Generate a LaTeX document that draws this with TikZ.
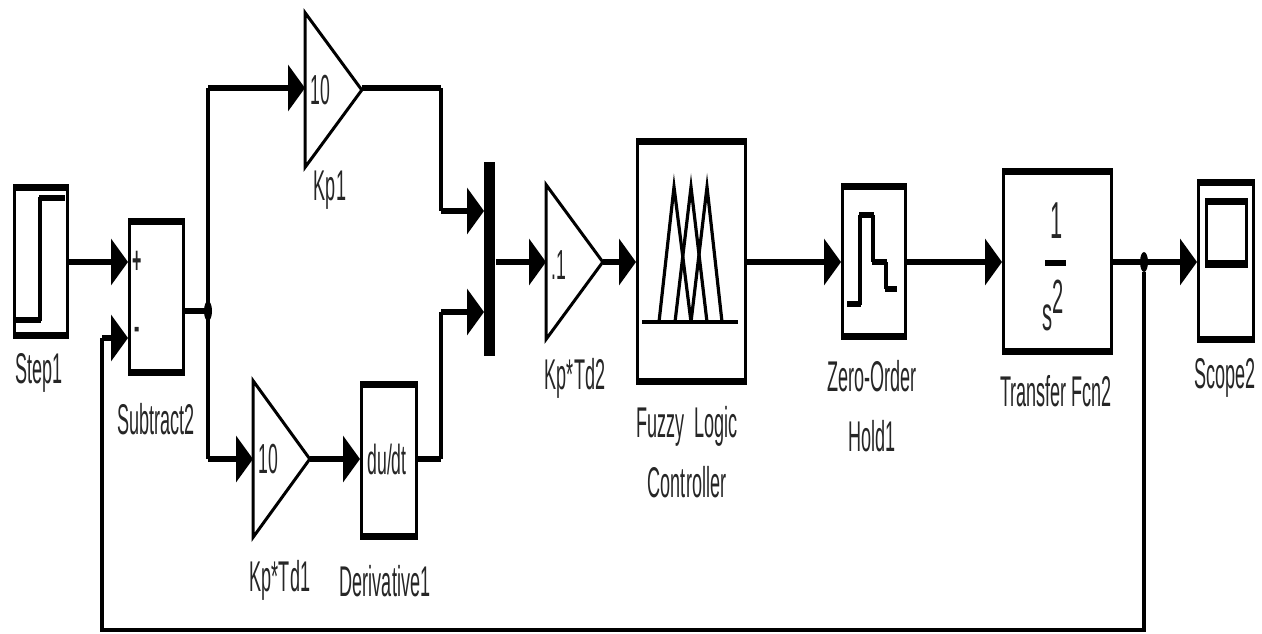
\documentclass[tikz,border=0pt]{standalone}
\usepackage{fontspec}
\setmainfont[FakeStretch=0.42]{Liberation Sans}
\usetikzlibrary{arrows.meta,shapes.geometric}
\tikzset{
  x=0.5pt,y=-0.5pt,
  blk/.style={draw=black,line width=1.6pt,inner sep=0pt,anchor=north west},
  gainbox/.style={inner sep=0pt,anchor=west,minimum width=28pt},
  gainline/.style={draw=black,line width=1.5pt,line join=miter},
  lbl/.style={font=\fontsize{21.5}{24}\selectfont,inner sep=0pt,align=center,text=black!85},
  val/.style={lbl,font=\fontsize{21}{21}\selectfont},
  thin wire/.style={line width=1.6pt},
  wire/.style={line width=3pt},
  head/.style={-{Triangle[length=8.5pt,width=23pt]},shorten >=0pt},
  icon/.style={line width=1.6pt,line join=miter},
  iconbar/.style={line width=3pt},
  dotj/.style={ellipse,fill=black,inner sep=0pt,minimum width=4pt,minimum height=10pt}
}
\newcommand{\bars}[2]{%
  \fill (#1.north west) rectangle ([yshift=-#2]#1.north east);
  \fill (#1.south west) rectangle ([yshift=#2]#1.south east);}
\newcommand{\gainblock}[4]{%
  \node[gainbox,minimum height=#4] (#1) at (#2,#3) {};
  \draw[gainline] (#1.north west) -- (#1.east) -- (#1.south west) -- cycle;}
\begin{document}
\begin{tikzpicture}
\useasboundingbox[fill=white] (0,0) rectangle (1262,633);
% blocks
\node[blk,minimum width=26.5pt,minimum height=76pt] (step) at (13,184) {};
\bars{step}{3.5pt}
\draw[icon] (40,321) -- (40,197);
\draw[iconbar] (14,320) -- (41,320);
\draw[iconbar] (39,198) -- (65,198);
\node[blk,minimum width=27pt,minimum height=77.5pt] (sub) at (128,218) {};
\bars{sub}{3.5pt}
\node[lbl,font=\fontsize{19}{19}\selectfont\bfseries] (plus) at (137,262) {+};
\node[lbl,font=\fontsize{19}{19}\selectfont\bfseries] (minus) at (137,333) {-};
\gainblock{kp1}{305}{90}{77pt}
\node[val] (kp1v) at (320,90) {10};
\gainblock{kptd1}{253}{459}{78pt}
\node[val] (kptd1v) at (268,459) {10};
\gainblock{kptd2}{546}{262}{77pt}
\node[val] (kptd2v) at (559,265) {.1};
\node[blk,minimum width=27.5pt,minimum height=78pt] (deriv) at (360,381) {};
\bars{deriv}{3.5pt}
\node[val] (derivv) at (387,459) {du/dt};
\node[fill=black,inner sep=0pt,minimum width=5.5pt,minimum height=97pt,anchor=north west] (mux) at (484,162) {};
\node[blk,minimum width=54pt,minimum height=122pt] (fuzzy) at (636,138) {};
\bars{fuzzy}{3.5pt}
\draw[icon] (642,322) -- (738,322);
\draw[icon] (659,322) -- (674,187) -- (691,322);
\draw[icon] (675,322) -- (691,187) -- (707,322);
\draw[icon] (691,322) -- (707,187) -- (722,322);
\node[blk,minimum width=31.5pt,minimum height=77pt] (zoh) at (841,183) {};
\bars{zoh}{3.5pt}
\draw[icon] (860,305) -- (860,215);
\draw[icon] (873,215) -- (873,262);
\draw[icon] (886,262) -- (886,289);
\draw[iconbar] (847,304) -- (861,304);
\draw[iconbar] (859,215) -- (874,215);
\draw[iconbar] (872,262) -- (887,262);
\draw[iconbar] (885,289) -- (897,289);
\node[blk,minimum width=54pt,minimum height=92pt] (tf) at (1002,168) {};
\bars{tf}{3.5pt}
\node[lbl,font=\fontsize{26}{26}\selectfont] (tfn) at (1057,221) {1};
\fill (1045,260) rectangle (1066,266);
\node[lbl,font=\fontsize{24}{24}\selectfont] (tfs) at (1053,305) {s\raisebox{8.5pt}{2}};
\node[blk,minimum width=27.5pt,minimum height=80.5pt] (scope) at (1197,179) {};
\bars{scope}{3.5pt}
\node[blk,minimum width=20pt,minimum height=33.5pt,line width=1.4pt] (screen) at (1205,198) {};
\fill (1205,198) rectangle (1245,205);
\fill (1205,260) rectangle (1245,266);
% ports and junctions
\node[dotj] (j1) at (208,311) {};
\node[dotj] (j2) at (1144,262) {};
\coordinate (psub1) at (sub.west |- plus);
\coordinate (psub2) at (sub.west |- 0,338);
\coordinate (top) at (208,88);
\coordinate (low) at (208,459);
\coordinate (pm1) at (484,211);
\coordinate (pm2) at (484,312);
\coordinate (c1) at (441,88);
\coordinate (c2) at (441,459);
\coordinate (fb1) at (1144,630);
\coordinate (fb2) at (102,630);
\coordinate (fb3) at (102,338);
\coordinate (k1in) at (305,88);
% connectors
\draw[wire,head] (step.east |- plus) -- (psub1);
\draw[thin wire] (j2) -- (fb1) -- (fb2) -- (fb3);
\draw[wire,head] (fb3) -- (psub2);
\draw[wire] (sub.east |- j1) -- (j1);
\draw[thin wire] (top) -- (low);
\draw[wire,head] (top) -- (k1in);
\draw[wire,head] (low) -- (kptd1.west);
\draw[wire,head] (kptd1.east) -- (deriv.west |- kptd1.east);
\draw[wire] (kp1.east |- c1) -- (c1);
\draw[thin wire] (c1) -- (c1 |- pm1);
\draw[wire,head] (c1 |- pm1) -- (pm1);
\draw[wire] (deriv.east |- c2) -- (c2);
\draw[thin wire] (c2) -- (c2 |- pm2);
\draw[wire,head] (c2 |- pm2) -- (pm2);
\draw[wire,head] (mux.east |- kptd2.west) -- (kptd2.west);
\draw[wire,head] (kptd2.east) -- (fuzzy.west |- kptd2.east);
\draw[wire,head] (fuzzy.east |- j2) -- (zoh.west |- j2);
\draw[wire,head] (zoh.east |- j2) -- (tf.west |- j2);
\draw[wire] (tf.east |- j2) -- (j2);
\draw[wire,head] (j2) -- (scope.west |- j2);
% labels
\node[lbl] (l1) at (39,373) {Step1};
\node[lbl] (l2) at (156,419) {Subtract2};
\node[lbl] (l3) at (330,190) {Kp1};
\node[lbl] (l4) at (280,580) {Kp*Td1};
\node[lbl] (l5) at (385,581) {Derivative1};
\node[lbl] (l6) at (575,378) {Kp*Td2};
\node[lbl,text width=120pt,font=\fontsize{21.5}{30}\selectfont] (l7) at (687,452) {Fuzzy\hspace{-2.5pt} Logic\\Controller};
\node[lbl,text width=120pt,font=\fontsize{21.5}{30}\selectfont] (l8) at (872,406) {Zero-Order\\Hold1};
\node[lbl] (l9) at (1056,391) {Transfer Fcn2};
\node[lbl] (l10) at (1225,378) {Scope2};
\end{tikzpicture}
\end{document}
